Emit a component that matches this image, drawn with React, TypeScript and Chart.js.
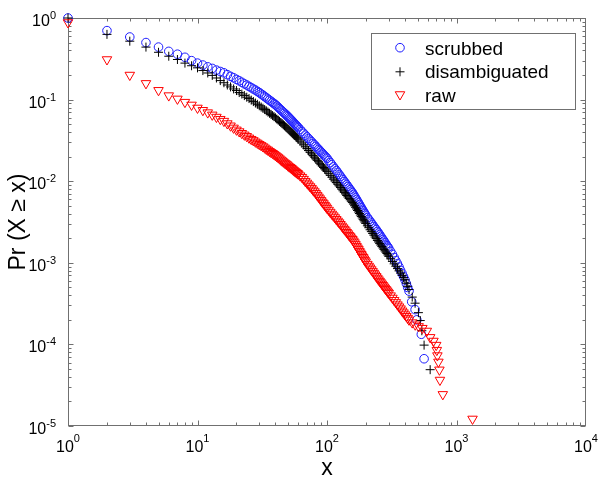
import React, { useEffect, useRef } from 'react';
import { Chart, registerables } from 'chart.js';

Chart.register(...registerables);

// shared x grid of the dense part of the three CCDFs
const denseX = [
  1, 2, 3, 4, 5, 6, 7, 8, 9, 10, 11, 12, 13, 14, 15, 16, 17, 18, 19, 20,
  21, 22, 23, 24, 25, 26, 27, 28, 29, 30, 31, 32, 33, 34, 35, 36, 37, 38, 39, 40,
  41, 42, 43, 44, 45, 46, 47, 48, 49, 50, 51, 52, 53, 54, 55, 56, 57, 58, 59, 60,
  62, 64, 66, 68, 70, 72, 74, 76, 78, 80, 82, 84, 86, 88, 90, 92, 94, 96, 98, 100,
  103, 106, 109, 112, 115, 118, 121, 124, 127, 130, 133, 136, 139, 142, 145, 148, 151, 154, 157, 160,
  163, 166, 169, 172, 175, 178, 181, 184, 187, 190, 193, 196, 199,
  205, 210, 215, 220, 225, 230, 235, 240, 245, 250, 255, 260, 265, 270, 275, 280, 285, 290, 295, 300,
  310, 320, 330, 340, 350, 360, 370, 380, 390, 400, 410, 420, 430,
];

const scrubbedTailX = [451, 479, 494, 535, 562];
const scrubbedP = [
  1, 0.70, 0.585, 0.50, 0.44, 0.39, 0.36, 0.33, 0.30, 0.28, 0.265, 0.252, 0.241, 0.230, 0.221, 0.213, 0.202, 0.193, 0.185, 0.177,
  0.170, 0.163, 0.156, 0.151, 0.145, 0.140, 0.135, 0.131, 0.126, 0.122, 0.1172, 0.1132, 0.1091, 0.1052, 0.1016, 0.0982, 0.0951, 0.0921, 0.0893, 0.0865,
  0.0834, 0.0804, 0.0776, 0.0750, 0.0724, 0.0701, 0.0679, 0.0658, 0.0638, 0.0618, 0.0598, 0.0579, 0.0561, 0.0543, 0.0526, 0.0511, 0.0495, 0.0481, 0.0467, 0.0454,
  0.0430, 0.0406, 0.0386, 0.0367, 0.0349, 0.0333, 0.0318, 0.0304, 0.0290, 0.0279, 0.0267, 0.0256, 0.0246, 0.0237, 0.0228, 0.0220, 0.0212, 0.0204, 0.0197, 0.0191,
  0.0179, 0.0169, 0.0159, 0.0150, 0.0142, 0.0135, 0.0128, 0.0121, 0.0115, 0.0109, 0.0104, 0.00991, 0.00945, 0.00902, 0.00861, 0.00822, 0.00787, 0.00754, 0.00723, 0.00690,
  0.00656, 0.00625, 0.00596, 0.00568, 0.00542, 0.00518, 0.00494, 0.00473, 0.00453, 0.00434, 0.00416, 0.00399, 0.00383,
  0.00358, 0.00340, 0.00323, 0.00307, 0.00292, 0.00278, 0.00265, 0.00254, 0.00242, 0.00232, 0.00221, 0.00211, 0.00201, 0.00193, 0.00185, 0.00177, 0.00169, 0.00162, 0.00156, 0.00150,
  0.00138, 0.00127, 0.00116, 0.00106, 0.000973, 0.000889, 0.000809, 0.000740, 0.000676, 0.000618, 0.000555, 0.000499, 0.000450,
  0.000333, 0.000267, 0.000200, 0.000133, 0.0000667,
];

const disambiguatedTailX = [455, 479, 508, 525, 540, 562, 626];
const disambiguatedP = [
  1, 0.63, 0.52, 0.44, 0.38, 0.34, 0.31, 0.28, 0.26, 0.245, 0.227, 0.212, 0.198, 0.184, 0.171, 0.161, 0.151, 0.143, 0.135, 0.129,
  0.122, 0.117, 0.112, 0.107, 0.103, 0.0985, 0.0946, 0.0908, 0.0875, 0.0841, 0.0811, 0.0783, 0.0755, 0.0728, 0.0703, 0.0680, 0.0658, 0.0637, 0.0618, 0.0598,
  0.0578, 0.0560, 0.0541, 0.0524, 0.0508, 0.0492, 0.0478, 0.0463, 0.0451, 0.0438, 0.0425, 0.0411, 0.0399, 0.0387, 0.0376, 0.0366, 0.0356, 0.0346, 0.0337, 0.0327,
  0.0310, 0.0294, 0.0279, 0.0264, 0.0251, 0.0238, 0.0226, 0.0216, 0.0206, 0.0197, 0.0188, 0.0180, 0.0173, 0.0166, 0.0159, 0.0153, 0.0147, 0.0142, 0.0137, 0.0132,
  0.0125, 0.0118, 0.0112, 0.0106, 0.0101, 0.00962, 0.00918, 0.00877, 0.00836, 0.00798, 0.00762, 0.00729, 0.00698, 0.00668, 0.00641, 0.00615, 0.00592, 0.00569, 0.00547, 0.00525,
  0.00500, 0.00479, 0.00457, 0.00438, 0.00419, 0.00402, 0.00385, 0.00370, 0.00355, 0.00341, 0.00328, 0.00316, 0.00304,
  0.00284, 0.00269, 0.00254, 0.00241, 0.00229, 0.00218, 0.00207, 0.00198, 0.00188, 0.00180, 0.00172, 0.00165, 0.00158, 0.00152, 0.00146, 0.00140, 0.00135, 0.00130, 0.00125, 0.00120,
  0.00112, 0.00104, 0.000971, 0.000907, 0.000849, 0.000796, 0.000747, 0.000702, 0.000662, 0.000619, 0.000564, 0.000515, 0.000471,
  0.00038, 0.00032, 0.000245, 0.000196, 0.000147, 0.000098, 0.000049,
];

const rawTailX = [455, 480, 510, 545, 590, 626, 664, 697, 705, 712, 725, 738, 745, 784, 1330];
const rawP = [
  0.88, 0.31, 0.20, 0.158, 0.13, 0.112, 0.102, 0.093, 0.086, 0.079, 0.0740, 0.0693, 0.0650, 0.0611, 0.0575, 0.0545, 0.0509, 0.0478, 0.0450, 0.0426,
  0.0406, 0.0387, 0.0370, 0.0355, 0.0340, 0.0327, 0.0316, 0.0304, 0.0294, 0.0284, 0.0275, 0.0266, 0.0257, 0.0248, 0.0241, 0.0233, 0.0226, 0.0220, 0.0214, 0.0207,
  0.0201, 0.0195, 0.0189, 0.0183, 0.0178, 0.0173, 0.0168, 0.0164, 0.0160, 0.0155, 0.0151, 0.0148, 0.0144, 0.0141, 0.0137, 0.0134, 0.0131, 0.0128, 0.0125, 0.0123,
  0.0117, 0.0112, 0.0106, 0.0100, 0.00953, 0.00906, 0.00861, 0.00822, 0.00783, 0.00747, 0.00710, 0.00675, 0.00643, 0.00612, 0.00583, 0.00557, 0.00533, 0.00509, 0.00488, 0.00468,
  0.00443, 0.00419, 0.00397, 0.00378, 0.00359, 0.00341, 0.00326, 0.00311, 0.00297, 0.00283, 0.00270, 0.00259, 0.00248, 0.00237, 0.00228, 0.00218, 0.00210, 0.00202, 0.00194, 0.00186,
  0.00177, 0.00168, 0.00160, 0.00153, 0.00146, 0.00139, 0.00133, 0.00127, 0.00122, 0.00117, 0.00112, 0.00107, 0.00103,
  0.000964, 0.000914, 0.000869, 0.000826, 0.000785, 0.000748, 0.000714, 0.000682, 0.000652, 0.000622, 0.000597, 0.000573, 0.000551, 0.000530, 0.000509, 0.000491, 0.000473, 0.000456, 0.000440, 0.000425,
  0.000396, 0.000371, 0.000348, 0.000327, 0.000307, 0.000290, 0.000274, 0.000258, 0.000245, 0.000232, 0.000221, 0.000210, 0.000200,
  0.000185, 0.000174, 0.000166, 0.000158, 0.000146, 0.000122, 0.000110, 0.0000980, 0.0000850, 0.0000730, 0.0000610, 0.0000488, 0.0000366, 0.0000244, 0.0000122,
];

const legendLabels = ['scrubbed', 'disambiguated', 'raw'];
const xTickPowers = ['0', '1', '2', '3', '4'];
const yTickPowers = ['0', '-1', '-2', '-3', '-4', '-5'];
const xTitle = 'x';
const yTitle = 'Pr (X \u2265 x)';

const FONT = "Arial, 'Liberation Sans', Helvetica, sans-serif";
const AXIS_COLOR = '#707070';
const BLUE = 'rgb(30,30,255)';
const BLACK = '#000000';
const RED = 'rgb(255,0,0)';

function toPoints(xs: number[], ps: number[]) {
  return xs.map((x, i) => ({ x, y: ps[i] }));
}

function drawMarker(ctx: CanvasRenderingContext2D, kind: string, x: number, y: number, color: string) {
  ctx.save();
  ctx.strokeStyle = color;
  ctx.lineWidth = 1;
  ctx.beginPath();
  if (kind === 'circle') {
    ctx.arc(x, y, 4.3, 0, Math.PI * 2);
  } else if (kind === 'cross') {
    ctx.moveTo(x - 4.5, y); ctx.lineTo(x + 4.5, y);
    ctx.moveTo(x, y - 4.5); ctx.lineTo(x, y + 4.5);
  } else {
    const r = 5.5;
    for (let k = 0; k < 3; k++) {
      const a = Math.PI + k * (2 * Math.PI / 3);
      const px = x + Math.sin(a) * r;
      const py = y - Math.cos(a) * r;
      if (k === 0) ctx.moveTo(px, py); else ctx.lineTo(px, py);
    }
    ctx.closePath();
  }
  ctx.stroke();
  ctx.restore();
}

const framePlugin = {
  id: 'matlabFrame',
  beforeDatasetsDraw(chart: any) {
    const { ctx, chartArea: a, scales } = chart;
    const sx = scales.x;
    const sy = scales.y;
    ctx.save();
    ctx.strokeStyle = AXIS_COLOR;
    ctx.lineWidth = 1;
    const L = a.left + 0.5, R = a.right - 0.5, T = a.top + 0.5, B = a.bottom - 0.5;
    ctx.strokeRect(L, T, R - L, B - T);
    ctx.beginPath();
    for (let e = 0; e < 4; e++) {
      for (let m = 1; m <= 9; m++) {
        const v = m * Math.pow(10, e);
        const px = Math.round(sx.getPixelForValue(v)) + 0.5;
        const len = m === 1 ? 5 : 3;
        ctx.moveTo(px, B); ctx.lineTo(px, B - len);
        ctx.moveTo(px, T); ctx.lineTo(px, T + len);
      }
    }
    for (let e = -5; e < 0; e++) {
      for (let m = 1; m <= 9; m++) {
        const v = m * Math.pow(10, e);
        const py = Math.round(sy.getPixelForValue(v)) + 0.5;
        const len = m === 1 ? 5 : 3;
        ctx.moveTo(L, py); ctx.lineTo(L + len, py);
        ctx.moveTo(R, py); ctx.lineTo(R - len, py);
      }
    }
    ctx.stroke();

    ctx.fillStyle = '#000';
    ctx.textAlign = 'left';
    ctx.textBaseline = 'alphabetic';
    // x tick labels
    xTickPowers.forEach((p) => {
      const px = sx.getPixelForValue(Math.pow(10, Number(p)));
      ctx.font = `16px ${FONT}`;
      const wb = ctx.measureText('10').width;
      ctx.font = `11px ${FONT}`;
      const we = ctx.measureText(p).width;
      const start = px - (wb + we) / 2;
      ctx.font = `16px ${FONT}`;
      ctx.fillText('10', start, a.bottom + 26);
      ctx.font = `11px ${FONT}`;
      ctx.fillText(p, start + wb, a.bottom + 16);
    });
    // y tick labels
    yTickPowers.forEach((p) => {
      const py = sy.getPixelForValue(Math.pow(10, Number(p)));
      ctx.font = `16px ${FONT}`;
      const wb = ctx.measureText('10').width;
      ctx.font = `11px ${FONT}`;
      const we = ctx.measureText(p).width;
      const start = a.left - 12 - (wb + we);
      ctx.font = `16px ${FONT}`;
      ctx.fillText('10', start, py + 8);
      ctx.font = `11px ${FONT}`;
      ctx.fillText(p, start + wb, py + 1);
    });
    // axis titles
    ctx.font = `23px ${FONT}`;
    ctx.textAlign = 'center';
    ctx.fillText(xTitle, (a.left + a.right) / 2, a.bottom + 49);
    ctx.save();
    ctx.translate(25, (a.top + a.bottom) / 2);
    ctx.rotate(-Math.PI / 2);
    ctx.fillText(yTitle, 0, 0);
    ctx.restore();
    ctx.restore();
  },
  afterDraw(chart: any) {
    const { ctx } = chart;
    ctx.save();
    ctx.fillStyle = '#fff';
    ctx.fillRect(371, 33, 205, 76);
    ctx.strokeStyle = AXIS_COLOR;
    ctx.lineWidth = 1;
    ctx.strokeRect(371.5, 33.5, 204, 76);
    const kinds = ['circle', 'cross', 'triangle'];
    const colors = [BLUE, BLACK, RED];
    ctx.font = `19px ${FONT}`;
    ctx.fillStyle = '#000';
    ctx.textAlign = 'left';
    ctx.textBaseline = 'alphabetic';
    legendLabels.forEach((lab, i) => {
      const cy = 47.7 + i * 24.1;
      drawMarker(ctx, kinds[i], 400, kinds[i] === 'triangle' ? cy - 1.4 : cy, colors[i]);
      ctx.fillText(lab, 425, 55 + i * 23.4);
    });
    ctx.restore();
  },
};

export default function App() {
  const ref = useRef<HTMLCanvasElement | null>(null);
  useEffect(() => {
    if (!ref.current) return;
    const chart = new Chart(ref.current, {
      type: 'scatter',
      data: {
        datasets: [
          {
            label: legendLabels[0],
            data: toPoints([...denseX, ...scrubbedTailX], scrubbedP),
            pointStyle: 'circle',
            pointRadius: 4.3,
            borderColor: BLUE,
            backgroundColor: 'rgba(0,0,0,0)',
            borderWidth: 1,
            order: 3,
            clip: false,
          },
          {
            label: legendLabels[1],
            data: toPoints([...denseX, ...disambiguatedTailX], disambiguatedP),
            pointStyle: 'cross',
            pointRadius: 4.5,
            borderColor: BLACK,
            backgroundColor: 'rgba(0,0,0,0)',
            borderWidth: 1,
            order: 2,
            clip: false,
          },
          {
            label: legendLabels[2],
            data: toPoints([...denseX, ...rawTailX], rawP),
            pointStyle: 'triangle',
            rotation: 180,
            pointRadius: 5.5,
            borderColor: RED,
            backgroundColor: 'rgba(0,0,0,0)',
            borderWidth: 1,
            order: 1,
            clip: false,
          } as any,
        ],
      },
      options: {
        animation: false,
        responsive: false,
        events: [],
        layout: { padding: { left: 68, top: 18, right: 12, bottom: 54 } },
        plugins: { legend: { display: false }, tooltip: { enabled: false } },
        scales: {
          x: { type: 'logarithmic', min: 1, max: 10000, display: false },
          y: { type: 'logarithmic', min: 0.00001, max: 1, display: false },
        },
      },
      plugins: [framePlugin],
    });
    return () => chart.destroy();
  }, []);
  return (
    <div style={{ position: 'absolute', left: 0, top: 0, width: 598, height: 480, background: '#fff' }}>
      <canvas ref={ref} width={598} height={480} style={{ width: 598, height: 480, display: 'block' }} />
    </div>
  );
}
